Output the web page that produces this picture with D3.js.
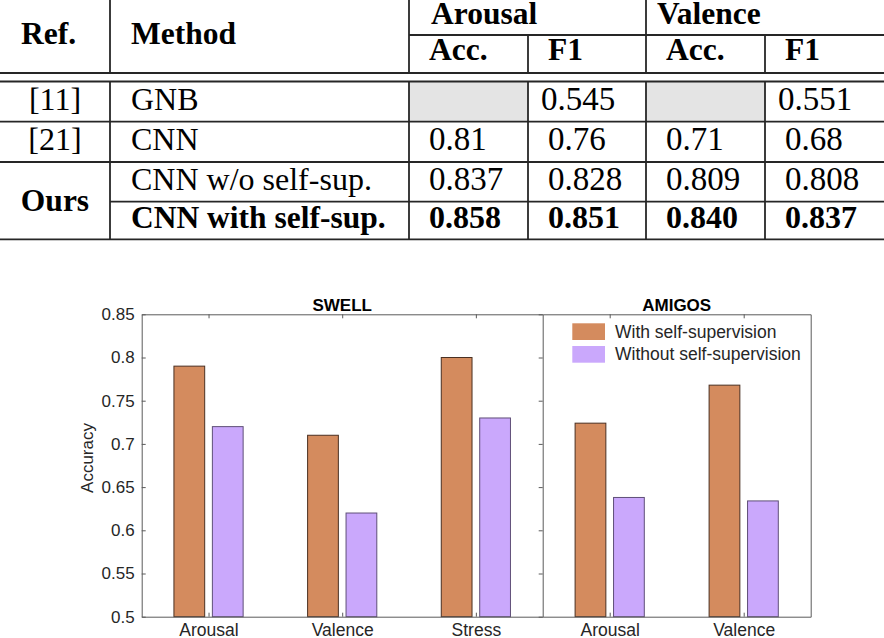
<!DOCTYPE html>
<html>
<head>
<meta charset="utf-8">
<script src="https://cdn.jsdelivr.net/npm/d3@7/dist/d3.min.js"></script>
<style>
  html, body { margin: 0; padding: 0; background: #fff; }
  svg { display: block; }
</style>
</head>
<body>
<svg id="fig" width="884" height="638"></svg>
<script>
// ---------------- DATA ----------------
// Table
const tableGroups = ["Arousal", "Valence"];
const tableSubHeaders = ["Acc.", "F1", "Acc.", "F1"];
const tableRefs = ["[11]", "[21]", "Ours"];
const tableMethods = ["GNB", "CNN", "CNN w/o self-sup.", "CNN with self-sup."];
const arousalAcc = [null, "0.81", "0.837", "0.858"];
const arousalF1 = ["0.545", "0.76", "0.828", "0.851"];
const valenceAcc = [null, "0.71", "0.809", "0.840"];
const valenceF1 = ["0.551", "0.68", "0.808", "0.837"];

// Bar chart
const panelTitles = ["SWELL", "AMIGOS"];
const swellCategories = ["Arousal", "Valence", "Stress"];
const amigosCategories = ["Arousal", "Valence"];
const seriesNames = ["With self-supervision", "Without self-supervision"];
const swellWith = [0.79, 0.71, 0.80];
const swellWithout = [0.72, 0.62, 0.73];
const amigosWith = [0.724, 0.768];
const amigosWithout = [0.638, 0.634];
const yTicks = [0.5, 0.55, 0.6, 0.65, 0.7, 0.75, 0.8, 0.85];
const yLabel = "Accuracy";

// ---------------- TABLE ----------------
const svg = d3.select("#fig");
const T = svg.append("g").attr("class", "table");
const colX = [0, 110, 409, 528, 646, 765, 884];
const lineColor = "#262626";
const lw = 1.8;
const ySub = 35, yD1 = 73, yD2 = 81.5;
const rowLines = [81.5, 121.7, 162, 201.7, 239.3];
const rowBase = [110, 149.5, 189.5, 227.5];
const serif = "'Liberation Serif', 'Times New Roman', serif";

// gray empty cells
const numCols = [arousalAcc, arousalF1, valenceAcc, valenceF1];
numCols.forEach((col, ci) => {
  col.forEach((v, ri) => {
    if (v === null) {
      T.append("rect")
        .attr("x", colX[ci + 2]).attr("y", rowLines[ri])
        .attr("width", colX[ci + 3] - colX[ci + 2])
        .attr("height", rowLines[ri + 1] - rowLines[ri])
        .attr("fill", "#e4e4e4");
    }
  });
});

function hline(x1, x2, y) {
  T.append("line").attr("x1", x1).attr("x2", x2).attr("y1", y).attr("y2", y)
    .attr("stroke", lineColor).attr("stroke-width", lw);
}
function vline(x, y1, y2) {
  T.append("line").attr("x1", x).attr("x2", x).attr("y1", y1).attr("y2", y2)
    .attr("stroke", lineColor).attr("stroke-width", lw);
}
hline(colX[2], 884, ySub);
hline(0, 884, yD1);
hline(0, 884, yD2);
hline(0, 884, rowLines[1]);
hline(0, 884, rowLines[2]);
hline(colX[1], 884, rowLines[3]);
hline(0, 884, rowLines[4]);
[colX[1], colX[2], colX[4]].forEach(x => { vline(x, 0, yD1); vline(x, yD2, rowLines[4]); });
[colX[3], colX[5]].forEach(x => { vline(x, ySub, yD1); vline(x, yD2, rowLines[4]); });

// header
T.append("text").attr("x", 21).attr("y", 43.5).text("Ref.")
  .attr("font-family", serif).attr("font-weight", "bold").attr("font-size", 31.5);
T.append("text").attr("x", 131).attr("y", 43.5).text("Method")
  .attr("font-family", serif).attr("font-weight", "bold").attr("font-size", 31.5);
T.selectAll("text.grp").data(tableGroups).enter().append("text")
  .attr("class", "grp")
  .attr("x", (d, i) => colX[2 + 2 * i] + (i === 0 ? 22 : 11))
  .attr("y", 23.5)
  .attr("font-family", serif).attr("font-weight", "bold").attr("font-size", 31.5)
  .text(d => d);
T.selectAll("text.sub").data(tableSubHeaders).enter().append("text")
  .attr("class", "sub")
  .attr("x", (d, i) => colX[2 + i] + 20)
  .attr("y", 60)
  .attr("font-family", serif).attr("font-weight", "bold").attr("font-size", 31.5)
  .text(d => d);

// ref column
T.append("text").attr("x", 55).attr("y", rowBase[0]).attr("text-anchor", "middle")
  .attr("font-family", serif).attr("font-size", 32).text(tableRefs[0]);
T.append("text").attr("x", 55).attr("y", rowBase[1]).attr("text-anchor", "middle")
  .attr("font-family", serif).attr("font-size", 32).text(tableRefs[1]);
T.append("text").attr("x", 55).attr("y", 211).attr("text-anchor", "middle")
  .attr("font-family", serif).attr("font-weight", "bold").attr("font-size", 31.5).text(tableRefs[2]);

// method column
T.selectAll("text.meth").data(tableMethods).enter().append("text")
  .attr("class", "meth")
  .attr("x", 131)
  .attr("y", (d, i) => rowBase[i])
  .attr("font-family", serif)
  .attr("font-weight", (d, i) => i === 3 ? "bold" : "normal")
  .attr("font-size", (d, i) => i === 3 ? 31.5 : 32)
  .text(d => d);

// numbers
numCols.forEach((col, ci) => {
  T.selectAll("text.num" + ci).data(col).enter().append("text")
    .attr("class", "num" + ci)
    .attr("x", (d, ri) => colX[ci + 2] + (ri === 0 ? 13 : 20))
    .attr("y", (d, ri) => rowBase[ri])
    .attr("font-family", serif)
    .attr("font-weight", (d, ri) => ri === 3 ? "bold" : "normal")
    .attr("font-size", (d, ri) => ri === 3 ? 32 : 33)
    .text(d => d === null ? "" : d);
});

// ---------------- BAR CHART ----------------
const sans = "'Liberation Sans', Arial, Helvetica, sans-serif";
const axisColor = "#5a5a5a";
const textColor = "#262626";
const colors = ["#d48b5e", "#caa8fc"];
const edges = ["#4a3022", "#5f4f78"];

const yTop = 314.3, yBot = 616.7;
const xL0 = 141.7, xMid = 542.7, xR1 = 810.7;

const y = d3.scaleLinear().domain([0.5, 0.85]).range([yBot, yTop]);
const panels = [
  { title: panelTitles[0], cats: swellCategories, vals: [swellWith, swellWithout],
    x: d3.scaleBand().domain(swellCategories).range([xL0, xMid]).padding(0) },
  { title: panelTitles[1], cats: amigosCategories, vals: [amigosWith, amigosWithout],
    x: d3.scaleBand().domain(amigosCategories).range([xMid, xR1]).padding(0) }
];
const x1 = d3.scaleBand().domain(seriesNames).range([-34.6, 34.6]).paddingInner(0.2);

const C = svg.append("g").attr("class", "chart");

function styleAxis(g, showText) {
  g.select(".domain").attr("stroke", axisColor).attr("stroke-width", 1);
  g.selectAll(".tick line").attr("stroke", axisColor).attr("stroke-width", 1);
  g.selectAll(".tick text").attr("fill", textColor)
    .attr("font-family", sans).attr("font-size", 17);
  if (!showText) g.selectAll(".tick text").remove();
}

panels.forEach((p, pi) => {
  const cx = d => p.x(d) + p.x.bandwidth() / 2;
  const xr = p.x.range();
  // bars
  p.vals.forEach((vals, si) => {
    C.append("g").selectAll("rect").data(p.cats).enter().append("rect")
      .attr("x", d => cx(d) + x1(seriesNames[si]))
      .attr("y", (d, i) => y(vals[i]))
      .attr("width", x1.bandwidth())
      .attr("height", (d, i) => y(0.5) - y(vals[i]))
      .attr("fill", colors[si])
      .attr("stroke", edges[si])
      .attr("stroke-width", 1);
  });
  // bottom axis
  const xb = d3.scaleLinear().domain(xr).range(xr);
  const bottom = C.append("g").attr("transform", `translate(0,${yBot})`)
    .call(d3.axisBottom(xb).tickValues(p.cats.map(cx)).tickFormat((d, i) => p.cats[i])
      .tickSizeInner(-4).tickSizeOuter(0).tickPadding(7));
  styleAxis(bottom, true);
  bottom.selectAll(".tick text").attr("font-size", 17.5);
  // top axis
  const top = C.append("g").attr("transform", `translate(0,${yTop})`)
    .call(d3.axisTop(xb).tickValues(p.cats.map(cx)).tickSizeInner(-4).tickSizeOuter(0));
  styleAxis(top, false);
  // title
  C.append("text")
    .attr("x", (xr[0] + xr[1]) / 2).attr("y", 311)
    .attr("text-anchor", "middle")
    .attr("font-family", sans).attr("font-weight", "bold").attr("font-size", 17)
    .attr("fill", "#000")
    .text(p.title);
});

// left y axis
const yAxisL = C.append("g").attr("transform", `translate(${xL0},0)`)
  .call(d3.axisLeft(y).tickValues(yTicks).tickFormat(d3.format(".2~f"))
    .tickSizeInner(-4).tickSizeOuter(0).tickPadding(7));
styleAxis(yAxisL, true);
// divider (right side of left panel) with inward ticks
const yAxisM = C.append("g").attr("transform", `translate(${xMid},0)`)
  .call(d3.axisRight(y).tickValues(yTicks).tickSizeInner(-4).tickSizeOuter(0));
styleAxis(yAxisM, false);
// right edge
const yAxisR = C.append("g").attr("transform", `translate(${xR1},0)`)
  .call(d3.axisRight(y).tickValues([]).tickSizeOuter(0));
styleAxis(yAxisR, false);

// y label
C.append("text")
  .attr("transform", `translate(93,458) rotate(-90)`)
  .attr("text-anchor", "middle")
  .attr("font-family", sans).attr("font-size", 17).attr("fill", textColor)
  .text(yLabel);

// legend
const leg = C.append("g").attr("transform", "translate(572.3,323.3)");
seriesNames.forEach((s, i) => {
  const g = leg.append("g").attr("transform", `translate(0,${i * 22.7})`);
  g.append("rect").attr("width", 32.7).attr("height", 16.7).attr("fill", colors[i]);
  g.append("text").attr("x", 42.7).attr("y", 8.35).attr("dy", "0.35em")
    .attr("font-family", sans).attr("font-size", 17.5).attr("fill", textColor)
    .text(s);
});
</script>
</body>
</html>
